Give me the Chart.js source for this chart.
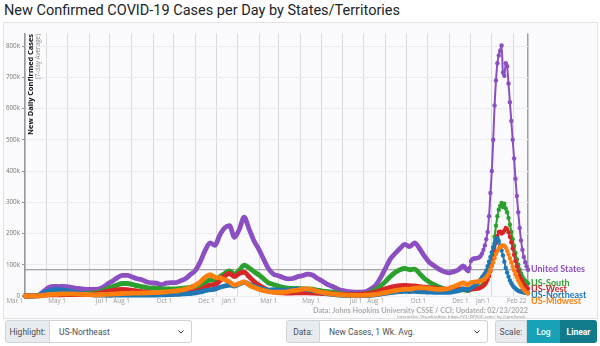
<!DOCTYPE html>
<html><head><meta charset="utf-8">
<script src="https://cdn.jsdelivr.net/npm/chart.js@4.4.0/dist/chart.umd.min.js"></script>
<style>
html,body{margin:0;padding:0;background:#fff;}
body{width:600px;height:346px;position:relative;overflow:hidden;font-family:Roboto,"Open Sans",sans-serif;}
#title{position:absolute;left:4px;top:1px;font-size:14.5px;color:#212529;white-space:nowrap;line-height:20px;}
#box{position:absolute;left:3px;top:22px;width:593px;height:295px;border:1px solid #e2e2e2;background:#fbfbfd;}
#c{position:absolute;left:0;top:0;}
.grp{position:absolute;top:320px;height:23px;display:flex;font-size:8.5px;color:#495057;}
.pre{background:#e9ecef;border:1px solid #ced4da;display:flex;align-items:center;justify-content:center;box-sizing:border-box;border-radius:3px 0 0 3px;}
.sel{background:#fff;border:1px solid #ced4da;border-left:none;display:flex;align-items:center;box-sizing:border-box;border-radius:0 3px 3px 0;position:relative;padding-left:9px;}
.sel svg{position:absolute;right:7px;top:9px;}
.btn{display:flex;align-items:center;justify-content:center;color:#fff;box-sizing:border-box;font-weight:500;}
</style></head>
<body>
<div id="title">New Confirmed COVID-19 Cases per Day by States/Territories</div>
<div id="box"></div>
<canvas id="c" width="600" height="320"></canvas>

<div class="grp" style="left:5px;width:187px;">
  <div class="pre" style="width:45px;">Highlight:</div>
  <div class="sel" style="width:142px;">US-Northeast<svg width="6" height="4" viewBox="0 0 6 4"><polyline points="0.5,0.5 3,3 5.5,0.5" fill="none" stroke="#343a40" stroke-width="1"/></svg></div>
</div>
<div class="grp" style="left:286px;width:202px;">
  <div class="pre" style="width:34px;">Data:</div>
  <div class="sel" style="width:168px;">New Cases, 1 Wk. Avg.<svg width="6" height="4" viewBox="0 0 6 4"><polyline points="0.5,0.5 3,3 5.5,0.5" fill="none" stroke="#343a40" stroke-width="1"/></svg></div>
</div>
<div class="grp" style="left:495px;width:102px;">
  <div class="pre" style="width:32px;">Scale:</div>
  <div class="btn" style="width:33px;background:#17a2b8;">Log</div>
  <div class="btn" style="width:37px;background:#117a8b;border-radius:0 3px 3px 0;font-weight:700;">Linear</div>
</div>

<script>
// ---- data (values in thousands of cases, 7-day average) ----
// day offsets from Mar 1 2020
const days = [
 0,7,14,21,28,35,42,49,56,63,
 70,77,84,91,98,105,112,119,126,133,
 140,147,154,161,168,175,182,189,196,203,
 210,217,224,231,238,245,252,259,266,273,
 280,287,294,301,308,315,322,329,336,343,
 350,357,364,371,378,385,392,399,406,413,
 420,427,434,441,448,455,462,469,476,483,
 490,497,504,511,518,525,532,539,546,553,
 560,567,574,581,588,595,602,609,616,623,
 630,637,
 639,641,643,645,647,649,651,653,655,657,
 659,661,663,665,667,669,671,673,675,677,
 679,681,683,685,687,689,691,693,695,697,
 699,701,703,705,707,709,711,713,715,717,
 719,721,723
];
const unitedStates = [
 0,0.1,0.5,4,17,28,31,30,31,29,
 26,24,22,21,21,22,28,39,48,59,
 66,66,61,55,52,45,42,41,36,41,
 43,43,49,56,69,82,110,146,170,162,
 195,218,225,188,213,252,215,177,150,118,
 87,70,65,59,55,56,62,65,70,67,
 57,48,38,31,24,18,15,13,12,12.5,
 14,22,34,58,88,118,136,152,165,158,
 170,152,128,108,97,86,78,74,78,84,
 96,80,
 90,112,118,120,120,121,122,124,128,136,
 148,162,182,205,255,330,400,500,610,690,
 745,770,785,802,715,705,745,735,680,620,
 560,500,440,375,320,268,218,178,148,125,
 108,95,84
];
const usSouth = [
 0,0,0.1,1,4,6,7,7,7,7.5,
 7.5,8,8.5,9,10,12,16,24,30,36,
 40,40,37,33,30,27,25,25,22,23,
 23,23,24,26,28,30,36,44,52,50,
 62,72,80,70,82,99,90,78,68,55,
 42,37,32,28,25,24,24,23,23,22,
 19,16,14,12,10,7,6,5.5,5.5,6,
 7.5,12,20,32,46,62,75,84,88,84,
 86,72,56,45,36,29,23,20,19,19,
 20,17,
 19,21,22,23,24,25,26,28,30,34,
 38,44,53,66,82,102,125,155,190,225,
 255,276,288,298,285,295,280,268,250,228,
 205,182,160,138,118,100,85,72,62,54,
 48,44,40
];
const usWest = [
 0,0,0.1,0.8,2.5,3.5,3.8,4,4.2,4.5,
 4.5,4.6,5,5.5,6.5,8,11,15,18,20,
 21,20,18,16,14,12,10,9,8,8,
 8.5,9,10,11,13,15,20,28,35,37,
 48,64,72,62,72,76,62,47,35,26,
 18,13,11,10,9,9.5,10,10,10,9.5,
 8.5,8,7,6.5,6,5,4.5,4.5,4.5,5,
 6.5,9,13,18,23,28,31,33,34,33,
 32,30,28,27,25,23,22,21,21,22,
 23,19,
 21,22,22,22,23,23,24,25,27,30,
 33,37,43,52,64,80,98,120,145,170,
 192,205,206,200,203,210,218,214,204,190,
 172,152,132,112,95,80,66,54,45,38,
 32,27,23
];
const usNortheast = [
 0,0.05,0.4,3,11,17,20,20,19,16,
 13,10,8,6,4,3,2.5,2.3,2.5,2.8,
 3,3,3,3,3,3,3,3.2,3.5,3.8,
 4.5,5,6,7,8,10,13,17,20,22,
 28,32,35,32,38,44,38,31,26,22,
 19,20,19,19,19,21,22,22,21,18,
 15,11,8,5.5,3.5,2.2,1.5,1.2,1,1,
 1.2,2,3.5,6,8.5,11,12.5,14,15,14,
 15,14,13,12.5,12,11.5,11.5,12,14,17,
 22,20,
 22,25,28,31,34,38,42,47,53,60,
 66,72,82,95,110,125,140,155,168,180,
 185,176,162,146,130,110,90,75,62,50,
 41,34,28,24,20,17,15,13.5,12.5,11.5,
 10.5,10,9.5
];
const usMidwest = [
 0,0,0.1,0.8,3,5,5.5,6,7,7,
 6.5,6,5.5,4.5,4,4,4.5,5.5,6,7,
 8,8.5,9,9.5,9.5,10,10.5,11,12,13,
 15,16,19,22,28,35,45,60,68,60,
 58,52,45,35,40,45,35,28,22,17,
 14,12,12,12,14,17,19,22,23,20,
 15,12,9,7,5,3.5,2.5,2,2,2,
 2.5,3.5,5.5,8,11,14,17,20,22,22,
 25,26,26,24,22,21,22,24,30,36,
 42,36,
 41,43,44,45,46,46,46,47,48,50,
 52,55,60,66,74,84,95,108,122,135,
 145,152,157,160,162,161,155,145,133,120,
 107,94,82,70,60,50,42,34,26,20,
 15,11,8.5
];
const seriesNames = ['United States','US-South','US-West','US-Northeast','US-Midwest'];
const seriesColors = ['#8c4fc2','#2ca02c','#d62728','#1f77b4','#ff7f0e'];
const tickDays = [0,31,61,92,122,153,184,214,245,275,306,337,365,396,426,457,487,518,549,579,610,640,671,702,723];
const tickLabels = ['Mar 1','','May 1','','Jul 1','Aug 1','','Oct 1','','Dec 1','Jan 1','','Mar 1','','May 1','','Jul 1','Aug 1','','Oct 1','','Dec 1','Jan 1','','Feb 22'];
const yTicks = [0,100,200,300,400,500,600,700,800];
const yTitle = 'New Daily Confirmed Cases';
const ySubtitle = '(7-day Average)';
const sourceText = 'Data: Johns Hopkins University CSSE / CCI; Updated: 02/23/2022';
const creditText = 'Interactive Visualization: https://91-DIVOC.com/ by @profwade_';

const allSeries = [unitedStates, usSouth, usWest, usNortheast, usMidwest];
const usLast = unitedStates[unitedStates.length-1];

function makeDataset(i){
  const vals = allSeries[i];
  const col = seriesColors[i];
  return {
    label: seriesNames[i],
    data: days.map((d,k)=>({x:d, y:vals[k]})),
    borderColor: col, backgroundColor: col,
    pointBackgroundColor: col, pointBorderWidth: 0,
    pointRadius: c => (c.dataIndex>0 && days[c.dataIndex]-days[c.dataIndex-1] < 4) ? 2.2 : 0,
    borderWidth: 2,
    segment: { borderWidth: c => (c.p1.parsed.x - c.p0.parsed.x) > 3 ? 4.8 : 2 },
    borderJoinStyle: 'round', borderCapStyle: 'round',
    cubicInterpolationMode: 'monotone',
    order: 5 - i,
    clip: false
  };
}
const datasets = [0,1,2,3,4].map(makeDataset);
datasets.push({
  label: 'ref', data: [{x:days[0], y:usLast},{x:days[days.length-1], y:usLast}],
  borderColor:'#8a8a8a', borderWidth:1.2, pointRadius:0, order: 10
});

const overlay = {
  id:'overlay',
  afterDraw(chart){
    const ctx = chart.ctx, a = chart.chartArea, ys = chart.scales.y;
    // y title
    ctx.save();
    ctx.translate(a.left+5.5, a.top+0.5);
    ctx.rotate(-Math.PI/2);
    ctx.textAlign='right'; ctx.textBaseline='middle';
    ctx.font='bold 7.4px "Open Sans"'; ctx.fillStyle='#111';
    ctx.fillText(yTitle,0,0);
    ctx.font='6.3px "Open Sans"'; ctx.fillStyle='#8a8a8a';
    ctx.fillText(ySubtitle,0,7.5);
    ctx.restore();
    // end labels
    ctx.save();
    ctx.font='bold 9px Lato'; ctx.textAlign='left'; ctx.textBaseline='middle';
    const usY = ys.getPixelForValue(usLast);
    ctx.fillStyle = seriesColors[0];
    ctx.fillText(seriesNames[0], a.right+3, usY-1);
    const order = [1,2,3,4].sort((p,q)=>allSeries[q][allSeries[q].length-1]-allSeries[p][allSeries[p].length-1]);
    let prev = -1e9;
    order.forEach(i=>{
      const v = allSeries[i][allSeries[i].length-1];
      let y = Math.max(ys.getPixelForValue(v)-0.8, prev+6.1);
      prev = y;
      ctx.fillStyle = seriesColors[i];
      ctx.fillText(seriesNames[i], a.right+3, y);
    });
    ctx.restore();
    // source / credit
    ctx.save();
    ctx.textAlign='right'; ctx.textBaseline='middle';
    ctx.font='bold 7.3px Lato'; ctx.fillStyle='#acacac';
    ctx.fillText(sourceText, a.right, 310.5);
    ctx.font='4.6px Lato'; ctx.fillStyle='#9a9a9a';
    ctx.fillText(creditText, a.right, 317);
    ctx.restore();
  }
};

new Chart(document.getElementById('c'), {
  type:'line',
  data:{datasets},
  options:{
    responsive:false, animation:false, events:[],
    layout:{padding:{left:0,right:72,top:33.5,bottom:10}},
    plugins:{legend:{display:false}, tooltip:{enabled:false}},
    scales:{
      x:{
        type:'linear', min:days[0], max:days[days.length-1],
        afterFit: s => { s.height = 14; },
        afterBuildTicks: s => { s.ticks = tickDays.map(v=>({value:v})); },
        ticks:{autoSkip:false, maxRotation:0, minRotation:0, align:'end', padding:1,
          font:{size:6.3, family:'"Open Sans"'}, color:'#9a9a9a',
          callback:(v,i)=> tickLabels[i] ? tickLabels[i]+' ' : ''},
        grid:{drawTicks:false,
          color: c => (c.tick && c.tick.value===tickDays[tickDays.length-1]) ? '#9e9e9e' : '#dadada',
          lineWidth: c => (c.tick && c.tick.value===tickDays[tickDays.length-1]) ? 1.5 : 1},
        border:{display:false}
      },
      y:{
        min:0, max:840,
        afterFit: s => { s.width = 25; },
        afterBuildTicks: s => { s.ticks = yTicks.map(v=>({value:v})); },
        ticks:{padding:2, font:{size:6.3, family:'"Open Sans"'}, color:'#777',
          callback: v => v===0 ? '0' : v+'k'},
        grid:{color:'#ebebf0', tickLength:3, tickColor:'#999'},
        border:{display:true, color:'#999', width:1.5}
      }
    }
  },
  plugins:[overlay]
});
</script>
</body></html>
